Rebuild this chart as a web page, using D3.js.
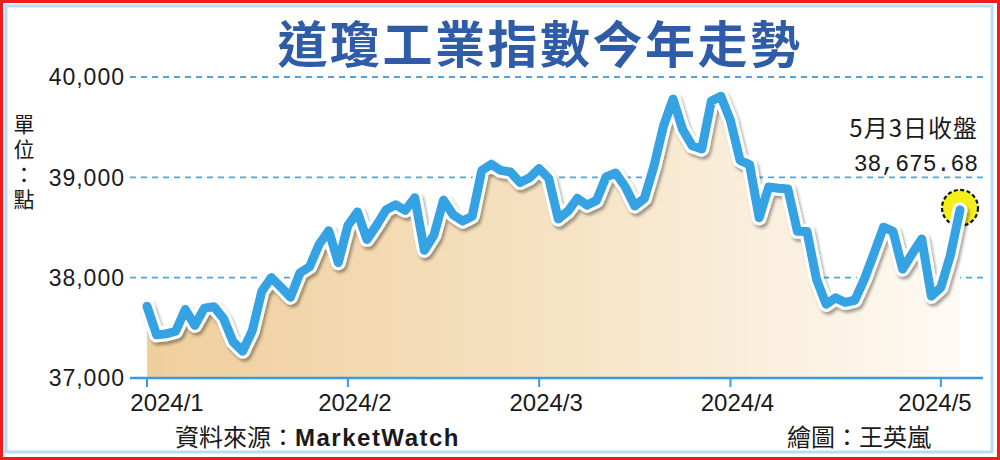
<!DOCTYPE html>
<html>
<head>
<meta charset="utf-8">
<script src="https://cdn.jsdelivr.net/npm/d3@7"></script>
<style>
  body { margin: 0; background: #fff; }
  svg { display: block; }
  text { font-family: "Liberation Sans", Arial, sans-serif; }
  .cjk { font-family: "Noto Sans CJK TC", "Noto Sans CJK SC", sans-serif; }
  .mono { font-family: "Liberation Mono", "DejaVu Sans Mono", monospace; }
  .vert { writing-mode: vertical-rl; text-orientation: upright; }
</style>
</head>
<body>
<div id="chart"></div>
<script>
// trading days, 2024/1/2 - 2024/5/3
const dates = [
  "1/2","1/3","1/4","1/5","1/8","1/9","1/10","1/11","1/12","1/16","1/17","1/18","1/19",
  "1/22","1/23","1/24","1/25","1/26","1/29","1/30","1/31",
  "2/1","2/2","2/5","2/6","2/7","2/8","2/9","2/12","2/13","2/14","2/15","2/16",
  "2/20","2/21","2/22","2/23","2/26","2/27","2/28","2/29",
  "3/1","3/4","3/5","3/6","3/7","3/8","3/11","3/12","3/13","3/14","3/15",
  "3/18","3/19","3/20","3/21","3/22","3/25","3/26","3/27","3/28",
  "4/1","4/2","4/3","4/4","4/5","4/8","4/9","4/10","4/11","4/12","4/15","4/16",
  "4/17","4/18","4/19","4/22","4/23","4/24","4/25","4/26","4/29","4/30",
  "5/1","5/2","5/3"
];
const closes = [
  37715, 37430, 37440, 37466, 37683, 37525, 37696, 37711, 37593, 37361, 37267, 37469, 37863,
  38001, 37906, 37806, 38049, 38109, 38333, 38467, 38150,
  38519, 38654, 38380, 38521, 38677, 38726, 38671, 38797, 38273, 38424, 38773, 38628,
  38564, 38612, 39069, 39131, 39069, 39053, 38949, 38996,
  39087, 38990, 38585, 38661, 38791, 38723, 38770, 39005, 39043, 38906, 38715,
  38790, 39111, 39512, 39781, 39476, 39314, 39282, 39760, 39807,
  39567, 39170, 39127, 38597, 38904, 38892, 38884, 38462, 38459, 37983, 37735, 37799,
  37753, 37775, 37986, 38240, 38503, 38461, 38086, 38239, 38386, 37816,
  37903, 38226, 38676
];
const monthTicks = ["1/2", "2/1", "3/1", "4/1", "5/1"];
const monthLabels = ["2024/1", "2024/2", "2024/3", "2024/4", "2024/5"];
const yTicks = [37000, 38000, 39000, 40000];
const yGrid = [38000, 39000, 40000];

const W = 1000, H = 460;

const svg = d3.select("#chart").append("svg")
    .attr("width", W)
    .attr("height", H);

const defs = svg.append("defs");

const grad = defs.append("linearGradient")
    .attr("id", "areaFill")
    .attr("x1", "0%").attr("x2", "100%")
    .attr("y1", "0%").attr("y2", "0%");
grad.append("stop").attr("offset", "0%").attr("stop-color", "#efcf9c");
grad.append("stop").attr("offset", "45%").attr("stop-color", "#f5e0bf");
grad.append("stop").attr("offset", "100%").attr("stop-color", "#fefaf4");

const shadow = defs.append("filter")
    .attr("id", "shadow")
    .attr("x", "-5%").attr("y", "-10%")
    .attr("width", "110%").attr("height", "125%");
shadow.append("feDropShadow")
    .attr("dx", 2).attr("dy", 3)
    .attr("stdDeviation", 1.6)
    .attr("flood-color", "#000")
    .attr("flood-opacity", 0.35);

// frames
svg.append("rect")
    .attr("x", 1.5).attr("y", 1.5)
    .attr("width", W - 3).attr("height", H - 3)
    .attr("fill", "none")
    .attr("stroke", "#ee1c1c")
    .attr("stroke-width", 3);
svg.append("rect")
    .attr("x", 6).attr("y", 6)
    .attr("width", 986).attr("height", 446)
    .attr("fill", "none")
    .attr("stroke", "#bcdaf2")
    .attr("stroke-width", 3);

const x = d3.scaleLinear()
    .domain([0, dates.length - 1])
    .range([147, 960]);

const y = d3.scaleLinear()
    .domain([37000, 40000])
    .range([378, 77]);

// title
svg.append("text")
    .attr("class", "cjk")
    .attr("x", 540)
    .attr("y", 63)
    .attr("text-anchor", "middle")
    .attr("font-size", 50)
    .attr("font-weight", 700)
    .attr("letter-spacing", 2.5)
    .attr("fill", "#2f5ca6")
    .text("道瓊工業指數今年走勢");

// grid lines
svg.append("g")
    .selectAll("line")
    .data(yGrid)
    .enter().append("line")
    .attr("x1", 130).attr("x2", 986)
    .attr("y1", d => y(d)).attr("y2", d => y(d))
    .attr("stroke", "#4ea6de")
    .attr("stroke-width", 1.8)
    .attr("stroke-dasharray", "6,5");

// y tick labels
svg.append("g")
    .selectAll("text")
    .data(yTicks)
    .enter().append("text")
    .attr("x", 125)
    .attr("y", d => y(d))
    .attr("dy", "0.36em")
    .attr("text-anchor", "end")
    .attr("font-size", 23)
    .attr("letter-spacing", 1)
    .attr("fill", "#1a1a1a")
    .text(d => d3.format(",")(d));

// unit, written vertically
svg.append("text")
    .attr("class", "cjk vert")
    .attr("x", 24)
    .attr("y", 114)
    .attr("font-size", 21)
    .attr("letter-spacing", 4)
    .attr("fill", "#1a1a1a")
    .text("單位：點");

// area
const area = d3.area()
    .x((d, i) => x(i))
    .y0(y(37000))
    .y1(d => y(d));

svg.append("path")
    .datum(closes)
    .attr("d", area)
    .attr("fill", "url(#areaFill)");

// x axis
svg.append("line")
    .attr("x1", 130).attr("x2", 983)
    .attr("y1", y(37000)).attr("y2", y(37000))
    .attr("stroke", "#3a9bdc")
    .attr("stroke-width", 2.5);

const ticks = svg.append("g")
    .selectAll("g")
    .data(monthTicks)
    .enter().append("g");

ticks.append("line")
    .attr("x1", d => x(dates.indexOf(d)))
    .attr("x2", d => x(dates.indexOf(d)))
    .attr("y1", y(37000))
    .attr("y2", y(37000) + 9)
    .attr("stroke", "#3a9bdc")
    .attr("stroke-width", 2);

ticks.append("text")
    .attr("x", d => Math.max(167, Math.min(x(dates.indexOf(d)) + 7, 935)))
    .attr("y", 411)
    .attr("text-anchor", "middle")
    .attr("font-size", 24)
    .attr("fill", "#1a1a1a")
    .text((d, i) => monthLabels[i]);

// closing marker
const last = closes.length - 1;
svg.append("circle")
    .attr("cx", x(last))
    .attr("cy", y(closes[last]) - 2)
    .attr("r", 18)
    .attr("fill", "#f4ef1b")
    .attr("stroke", "#111")
    .attr("stroke-width", 2.2)
    .attr("stroke-dasharray", "4,2.5");

// line with white outline and shadow
const line = d3.line()
    .x((d, i) => x(i))
    .y(d => y(d));

svg.append("path")
    .datum(closes)
    .attr("d", line)
    .attr("fill", "none")
    .attr("stroke", "#fff")
    .attr("stroke-width", 15)
    .attr("stroke-linejoin", "round")
    .attr("stroke-linecap", "round")
    .attr("filter", "url(#shadow)");

svg.append("path")
    .datum(closes)
    .attr("d", line)
    .attr("fill", "none")
    .attr("stroke", "#35a2e4")
    .attr("stroke-width", 9)
    .attr("stroke-linejoin", "round")
    .attr("stroke-linecap", "round");

// annotation
svg.append("text")
    .attr("class", "cjk")
    .attr("x", 978)
    .attr("y", 137)
    .attr("text-anchor", "end")
    .attr("font-size", 24)
    .attr("letter-spacing", 1)
    .attr("fill", "#1a1a1a")
    .text("5月3日收盤");

svg.append("text")
    .attr("class", "mono")
    .attr("x", 978)
    .attr("y", 171)
    .attr("text-anchor", "end")
    .attr("font-size", 23)
    .attr("fill", "#1a1a1a")
    .text(d3.format(",.2f")(38675.68));

// footer
const src = svg.append("text")
    .attr("x", 175)
    .attr("y", 446)
    .attr("font-size", 24)
    .attr("fill", "#1a1a1a");
src.append("tspan").attr("class", "cjk").text("資料來源：");
src.append("tspan")
    .attr("font-weight", 700)
    .attr("letter-spacing", 1.5)
    .text("MarketWatch");

svg.append("text")
    .attr("class", "cjk")
    .attr("x", 931)
    .attr("y", 446)
    .attr("text-anchor", "end")
    .attr("font-size", 24)
    .attr("fill", "#1a1a1a")
    .text("繪圖：王英嵐");
</script>
</body>
</html>
